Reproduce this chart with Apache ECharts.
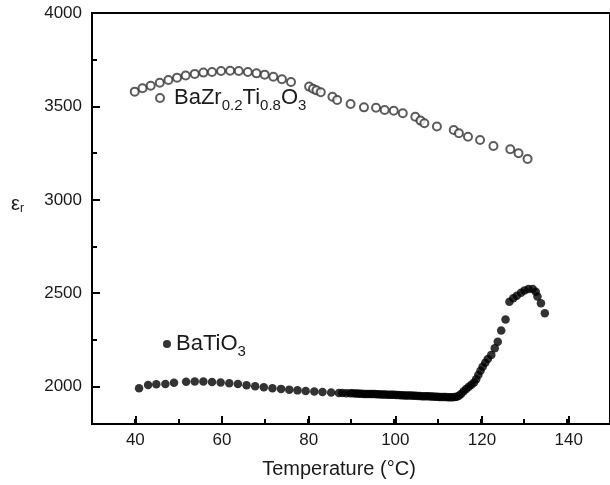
<!DOCTYPE html>
<html>
<head>
<meta charset="utf-8">
<script src="https://cdn.jsdelivr.net/npm/echarts@6/dist/echarts.min.js"></script>
<style>
  html, body { margin: 0; padding: 0; background: #fff; }
  #chart { width: 610px; height: 485px; }
</style>
</head>
<body>
<div id="chart"></div>
<script>
// BaZr0.2Ti0.8O3 (open circles)
const bztTemp = [39.9, 41.7, 43.6, 45.7, 47.7, 49.7, 51.7, 53.8, 55.8, 57.8, 59.9, 62.0, 64.0, 66.1, 68.1, 70.0, 72.0, 74.0, 76.1,
  80.3, 81.2, 82.0, 83.0, 85.7, 86.8, 89.9, 93.0, 95.8, 97.8, 99.9, 102.0, 104.9, 106.1, 107.0, 109.9,
  113.8, 115.0, 117.1, 119.9, 123.0, 126.9, 128.8, 130.9]
const bztEps = [3579, 3597, 3611, 3627, 3641, 3654, 3665, 3674, 3681, 3684, 3690, 3691, 3690, 3684, 3677, 3670, 3659, 3645, 3631,
  3606, 3595, 3586, 3576, 3552, 3534, 3513, 3495, 3493, 3481, 3477, 3463, 3445, 3424, 3410, 3392,
  3374, 3356, 3338, 3320, 3288, 3271, 3249, 3219]

// BaTiO3 (filled circles)
const btTemp = [40.9, 43.0, 44.9, 47.0, 49.0, 51.8, 53.8, 55.8, 57.8, 59.8, 61.8, 63.8, 65.8, 67.8, 69.8, 71.8, 73.8, 75.7, 77.6,
  79.5, 81.5, 83.4, 85.4, 87.2, 88.0, 88.9, 89.8, 90.4, 91.0, 91.5, 92.0, 92.5, 93.0, 93.5, 94.0, 94.5, 95.0, 95.5,
  96.0, 96.5, 97.0, 97.5, 98.0, 98.5, 99.0, 99.5, 100.0, 100.5, 101.0, 101.5, 102.0, 102.5, 103.0, 103.5, 104.0,
  104.5, 105.0, 105.5, 106.0, 106.5, 107.0, 107.5, 108.0, 108.5, 109.0, 109.5, 110.0, 110.5, 111.0, 111.5, 112.0,
  112.5, 113.0, 113.5, 114.0, 114.5, 115.0, 115.5, 116.1, 116.7, 117.3, 117.9, 118.5, 119.0, 119.5, 120.0, 120.5,
  121.1, 121.7, 122.5, 123.3, 124.0, 124.8, 125.8, 126.7, 127.6, 128.4, 129.4, 130.2, 131.1, 132.1, 132.8, 133.2,
  134.0, 134.9]
const btEps = [1991, 2009, 2013, 2014, 2021, 2026, 2027, 2027, 2025, 2022, 2018, 2014, 2008, 2002, 1997, 1991, 1988, 1984, 1980,
  1977, 1974, 1971, 1968, 1966, 1966, 1965, 1964, 1964, 1963, 1963, 1962, 1962, 1961, 1961, 1961, 1960, 1960, 1960,
  1959, 1959, 1958, 1958, 1958, 1957, 1957, 1956, 1956, 1955, 1955, 1954, 1954, 1953, 1953, 1952, 1952,
  1951, 1951, 1950, 1950, 1949, 1949, 1948, 1948, 1947, 1947, 1946, 1946, 1945, 1945, 1944, 1944,
  1943, 1943, 1943, 1944, 1946, 1951, 1960, 1975, 1988, 1999, 2010, 2022, 2040, 2062, 2085, 2107,
  2128, 2148, 2170, 2205, 2240, 2300, 2360, 2455, 2473, 2487, 2503, 2514, 2522, 2522, 2508, 2482,
  2446, 2393]

// axis ranges and tick steps
const xRange = [30, 150]
const yRange = [1800, 4000]
const xMajorRange = [40, 140]   // labelled ticks, every 20
const yMajorRange = [2000, 4000] // labelled ticks, every 500
const xMinorStep = 10
const xMajorStep = 20
const yMinorStep = 250
const yMajorStep = 500

const bztName = 'BaZr0.2Ti0.8O3'
const btName = 'BaTiO3'

const FONT = 'Liberation Sans, Arial, Helvetica, sans-serif'
const TXT = '#1a1a1a'

// plot box in px
const L = 92, T = 13, W = 520, H = 411
const pxX = v => L + (v - xRange[0]) / (xRange[1] - xRange[0]) * W
const pxY = v => T + H - (v - yRange[0]) / (yRange[1] - yRange[0]) * H
const box = (x0, x1, y0, y1) => ({ left: x0, right: 610 - x1, top: y1, bottom: 485 - y0 })

const mainBox = box(L, L + W, T + H, T)
const xMajorBox = box(pxX(xMajorRange[0]), pxX(xMajorRange[1]), T + H, T)
const yMajorBox = box(L, L + W, pxY(yMajorRange[0]), pxY(yMajorRange[1]))

const zip = (xs, ys) => xs.map((x, i) => [x, ys[i]])

const richText = {
  m: { fontSize: 22, lineHeight: 30, color: TXT, fontFamily: FONT },
  s: { fontSize: 15, lineHeight: 15, verticalAlign: 'bottom', color: TXT, fontFamily: FONT }
}

const tick = (len) => ({ show: true, inside: true, length: len, lineStyle: { color: '#000', width: 2 } })
const hidden = (grid, range) => ({ type: 'value', gridIndex: grid, min: range[0], max: range[1], show: false })

const chart = echarts.init(document.getElementById('chart'))

chart.setOption({
  animation: false,
  backgroundColor: '#fff',
  textStyle: { fontFamily: FONT },
  grid: [
    Object.assign({ show: true, borderColor: '#000', borderWidth: 2, backgroundColor: 'transparent' }, mainBox),
    Object.assign({ show: false }, xMajorBox),
    Object.assign({ show: false }, yMajorBox),
    Object.assign({ show: false }, yMajorBox)
  ],
  legend: [
    {
      data: [bztName],
      selectedMode: false,
      left: 155,
      top: 83,
      padding: 0,
      itemWidth: 18,
      itemHeight: 8,
      formatter: () => '{m|BaZr}{s|0.2}{m|Ti}{s|0.8}{m|O}{s|3}',
      textStyle: { fontSize: 22, lineHeight: 30, color: TXT, rich: richText }
    },
    {
      data: [btName],
      selectedMode: false,
      left: 163,
      top: 329,
      padding: 0,
      itemWidth: 8,
      itemHeight: 8,
      formatter: () => '{m|BaTiO}{s|3}',
      textStyle: { fontSize: 22, lineHeight: 30, color: TXT, rich: richText }
    }
  ],
  xAxis: [
    {
      type: 'value',
      gridIndex: 0,
      min: xRange[0],
      max: xRange[1],
      interval: xMinorStep,
      name: 'Temperature (°C)',
      nameLocation: 'middle',
      nameGap: 35,
      nameTextStyle: { fontSize: 20, color: TXT, padding: [0, 24, 0, 0] },
      axisLine: { show: true, lineStyle: { color: '#000', width: 2 } },
      axisTick: tick(5),
      axisLabel: { show: false },
      splitLine: { show: false }
    },
    {
      type: 'value',
      gridIndex: 1,
      min: xMajorRange[0],
      max: xMajorRange[1],
      interval: xMajorStep,
      axisLine: { show: false },
      axisTick: tick(8),
      axisLabel: { fontSize: 17, color: TXT, margin: 8 },
      splitLine: { show: false }
    },
    hidden(2, [0, 1]),
    hidden(3, [0, 1])
  ],
  yAxis: [
    {
      type: 'value',
      gridIndex: 0,
      min: yRange[0],
      max: yRange[1],
      axisLine: { show: true, lineStyle: { color: '#000', width: 2 } },
      axisTick: { show: false },
      axisLabel: { show: false },
      splitLine: { show: false }
    },
    hidden(1, [0, 1]),
    {
      type: 'value',
      gridIndex: 2,
      min: yMajorRange[0],
      max: yMajorRange[1],
      interval: yMajorStep,
      axisLine: { show: false },
      axisTick: tick(8),
      axisLabel: { fontSize: 17, color: TXT, margin: 10, formatter: v => String(v) },
      splitLine: { show: false }
    },
    {
      type: 'value',
      gridIndex: 3,
      min: yMajorRange[0],
      max: yMajorRange[1],
      interval: yMinorStep,
      axisLine: { show: false },
      axisTick: tick(5),
      axisLabel: { show: false },
      splitLine: { show: false }
    }
  ],
  graphic: [
    {
      type: 'text',
      left: 11,
      top: 194,
      style: {
        text: '{e|ε}{r|r}',
        rich: {
          e: { fontSize: 20, lineHeight: 22, fill: TXT, fontFamily: FONT },
          r: { fontSize: 12, lineHeight: 12, verticalAlign: 'bottom', fill: TXT, fontFamily: FONT }
        }
      }
    }
  ],
  series: [
    {
      name: bztName,
      type: 'scatter',
      xAxisIndex: 0,
      yAxisIndex: 0,
      symbol: 'emptyCircle',
      symbolSize: 8,
      itemStyle: { color: '#333', borderWidth: 1.2 },
      data: zip(bztTemp, bztEps)
    },
    {
      name: btName,
      type: 'scatter',
      xAxisIndex: 0,
      yAxisIndex: 0,
      symbol: 'circle',
      symbolSize: 8.5,
      itemStyle: { color: '#000' },
      data: zip(btTemp, btEps)
    }
  ]
})

window.addEventListener('resize', () => chart.resize())
</script>
</body>
</html>
